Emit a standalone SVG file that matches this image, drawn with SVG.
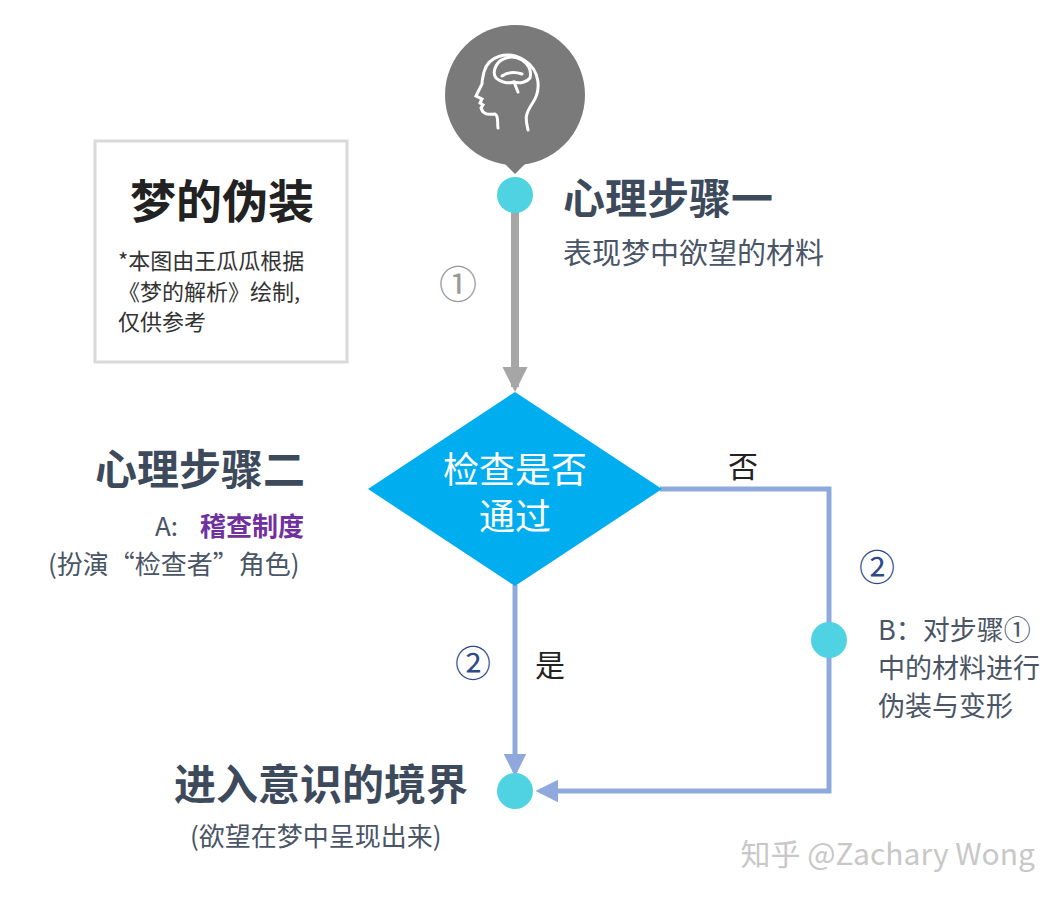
<svg xmlns="http://www.w3.org/2000/svg" width="1062" height="902" viewBox="0 0 1062 902">
<style>
text{font-family:"Noto Sans CJK SC","Noto Sans",sans-serif}
.h{font-size:42px;font-weight:bold;fill:#3d4a5c}
.s{font-size:26px;fill:#4a5566}
.dot{fill:#4fd3e3}
.num{font-size:36px;fill:#2e4a8a}
.blue{stroke:#8fa9dc;stroke-width:5;fill:none}
</style>
<defs>
<marker id="ag" viewBox="0 0 10 10" refX="8" refY="5" markerWidth="3.2" markerHeight="3.2" orient="auto"><path d="M0,0L10,5L0,10z" fill="#a6a6a6"/></marker>
<marker id="ab" viewBox="0 0 10 10" refX="8" refY="5" markerWidth="4.5" markerHeight="4.5" orient="auto"><path d="M0,0L10,5L0,10z" fill="#8fa9dc"/></marker>
</defs>
<rect width="1062" height="902" fill="#fff"/>
<g id="title">
<rect x="95" y="141" width="252" height="221" fill="none" stroke="#d9d9d9" stroke-width="3"/>
<text x="222" y="218" text-anchor="middle" font-size="46" font-weight="bold" fill="#222">梦的伪装</text>
<text x="118" y="269" font-size="22" fill="#333">*本图由王瓜瓜根据</text>
<text x="118" y="300" font-size="22" fill="#333">《梦的解析》绘制,</text>
<text x="118" y="330" font-size="22" fill="#333">仅供参考</text>
</g>
<g id="connectors">
<line x1="515" y1="200" x2="515" y2="387" stroke="#a6a6a6" stroke-width="8" marker-end="url(#ag)"/>
<text x="458" y="298" text-anchor="middle" font-size="38" fill="#999">①</text>
<polyline class="blue" points="660,489 829,489 829,791 540,791" marker-end="url(#ab)"/>
<line class="blue" x1="515" y1="585" x2="515" y2="772" marker-end="url(#ab)"/>
<text x="743" y="477" text-anchor="middle" font-size="30" fill="#222">否</text>
<text x="550" y="676" text-anchor="middle" font-size="30" fill="#222">是</text>
<text x="473" y="677" text-anchor="middle" class="num">②</text>
<text x="877" y="581" text-anchor="middle" class="num">②</text>
</g>
<g id="head">
<path d="M505,164l10,10l10,-10z" fill="#7a7a7a"/>
<circle cx="515" cy="95" r="70" fill="#7a7a7a"/>
<g fill="none" stroke="#fff" stroke-width="3" stroke-linecap="round">
<path d="M528,130c-2,-10 -4,-14 4,-26c10,-14 8,-34 -8,-44c-16,-10 -36,-4 -40,12c-1,5 -2,8 -2,12l-6,12l6,3l-2,4l3,2l-2,3c2,6 6,7 14,6c4,2 2,8 3,14"/>
<path d="M496,66c4,-8 16,-12 26,-6c6,4 10,10 8,18c-3,4 -10,6 -16,4c-6,2 -14,0 -18,-4c-3,-4 -2,-8 0,-12z"/>
<path d="M502,76c6,-4 14,-4 20,-2M514,82l4,10"/>
</g>
</g>
<g id="step1">
<circle class="dot" cx="515" cy="195" r="18"/>
<text x="563" y="214" class="h">心理步骤一</text>
<text x="563" y="264" font-size="29" fill="#4a5566">表现梦中欲望的材料</text>
</g>
<g id="check">
<polygon points="515,392 662,489 515,586 368,489" fill="#00adef"/>
<text x="515" y="483" text-anchor="middle" font-size="36" fill="#fff">检查是否</text>
<text x="515" y="530" text-anchor="middle" font-size="36" fill="#fff">通过</text>
</g>
<g id="step2">
<text x="200" y="485" text-anchor="middle" class="h">心理步骤二</text>
<text x="155" y="536" font-size="26" fill="#4a5566">A:</text>
<text x="200" y="536" font-size="26" font-weight="bold" fill="#7030a0">稽查制度</text>
<text x="48" y="574" class="s">(扮演“检查者”角色)</text>
</g>
<g id="b">
<circle class="dot" cx="829" cy="640" r="18"/>
<text x="878" y="640" font-size="27" fill="#4a5566">B：对步骤①</text>
<text x="878" y="678" font-size="27" fill="#4a5566">中的材料进行</text>
<text x="878" y="716" font-size="27" fill="#4a5566">伪装与变形</text>
</g>
<g id="end">
<circle class="dot" cx="515" cy="791" r="18"/>
<text x="468" y="800" text-anchor="end" class="h">进入意识的境界</text>
<text x="190" y="846" class="s">(欲望在梦中呈现出来)</text>
</g>
<text x="1035" y="865" text-anchor="end" font-size="30" fill="#c8c8c8">知乎 @Zachary Wong</text>
</svg>
